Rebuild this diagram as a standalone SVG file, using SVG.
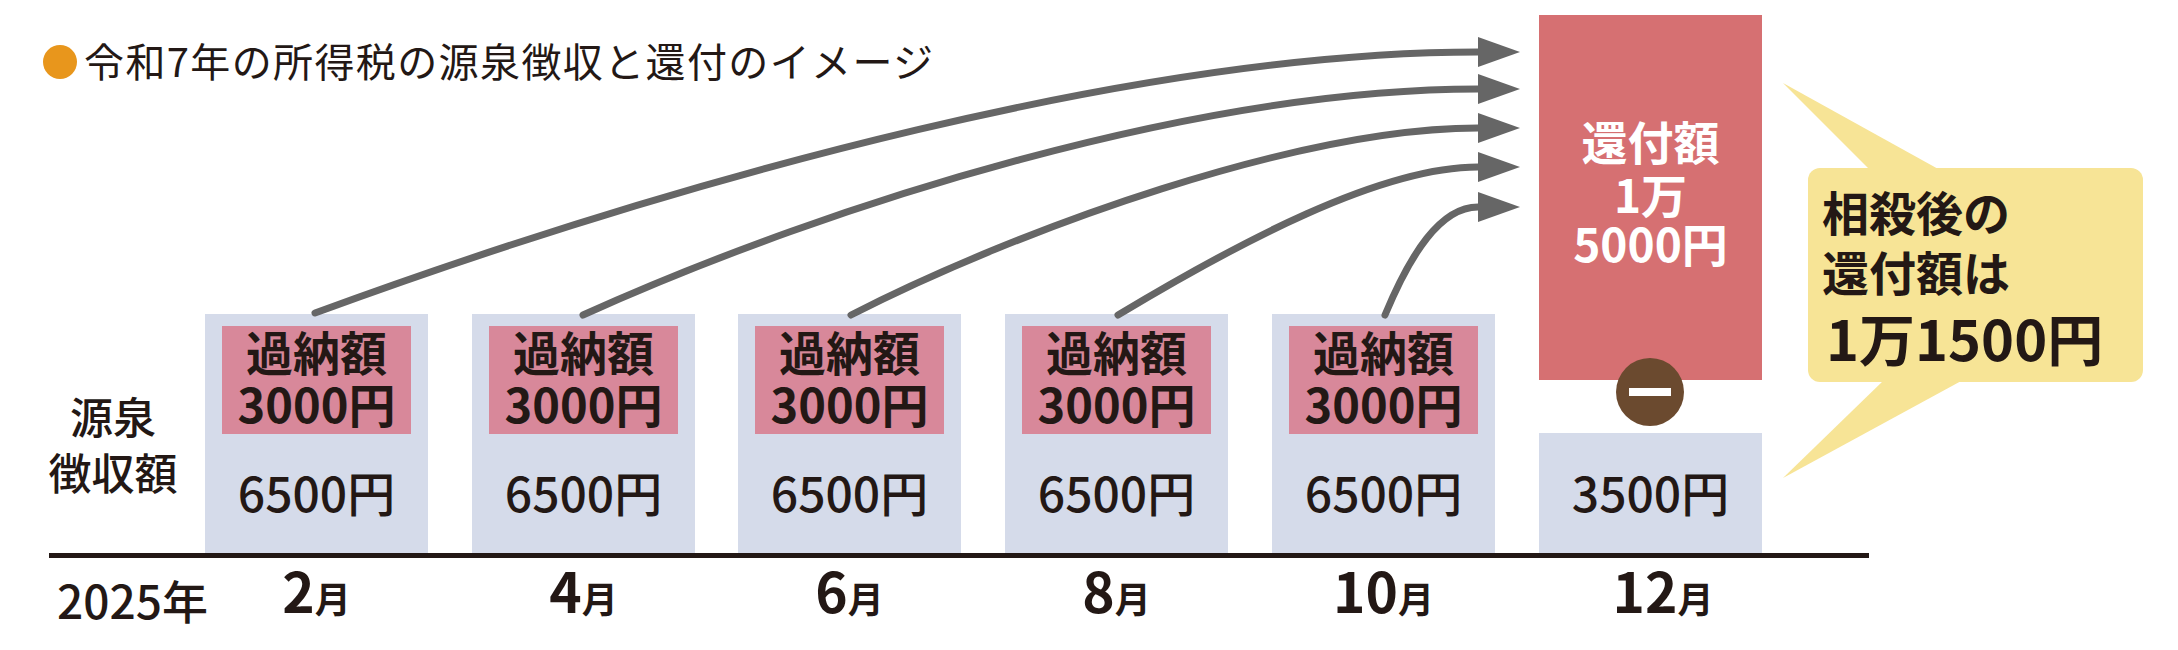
<svg xmlns="http://www.w3.org/2000/svg" width="2178" height="650" viewBox="0 0 2178 650">
<style>
  text { font-family: "Noto Sans CJK JP", "Noto Sans", sans-serif; fill: #231815; }
  .blue { fill: #D5DBEA; }
  .pink { fill: #D8889A; }
  .pinkt { font-size: 47px; font-weight: 700; text-anchor: middle; }
  .amt { font-size: 48px; font-weight: 500; text-anchor: middle; }
  .mon { font-size: 55px; font-weight: 700; text-anchor: middle; }
  .mon tspan.m { font-size: 36px; }
  .side { font-size: 43px; font-weight: 500; text-anchor: middle; }
  .wt { fill: #FFFFFF; font-size: 46px; font-weight: 700; text-anchor: middle; }
  .yt { font-size: 47px; font-weight: 700; }
  .arrow { fill: none; stroke: #666666; stroke-width: 7; stroke-linecap: round; marker-end: url(#ah); }
</style>
<defs>
  <marker id="ah" markerUnits="userSpaceOnUse" markerWidth="44" markerHeight="32" refX="0" refY="15" orient="auto" viewBox="0 0 44 32">
    <polygon points="0,0 42,15 0,30" fill="#666666"/>
  </marker>
</defs>
<rect width="2178" height="650" fill="#FFFFFF"/>

<g id="title">
  <circle cx="60" cy="62" r="17" fill="#E8961C"/>
  <text x="84" y="77" font-size="40" font-weight="400" textLength="849" lengthAdjust="spacing">令和7年の所得税の源泉徴収と還付のイメージ</text>
</g>

<g id="axis">
  <rect x="49" y="553" width="1820" height="5" fill="#231815"/>
  <text class="side" x="113" y="434">源泉</text>
  <text class="side" x="113" y="490">徴収額</text>
  <text x="57" y="619" font-size="46" font-weight="500">2025年</text>
</g>

<g id="feb">
  <rect class="blue" x="205" y="314" width="223" height="239"/>
  <rect class="pink" x="222" y="326" width="189" height="108"/>
  <text class="pinkt" x="316.5" y="371">過納額</text>
  <text class="pinkt" x="316.5" y="423">3000円</text>
  <text class="amt" x="316.5" y="512">6500円</text>
  <text class="mon" x="316.5" y="613">2<tspan class="m">月</tspan></text>
</g>
<g id="apr">
  <rect class="blue" x="472" y="314" width="223" height="239"/>
  <rect class="pink" x="489" y="326" width="189" height="108"/>
  <text class="pinkt" x="583.5" y="371">過納額</text>
  <text class="pinkt" x="583.5" y="423">3000円</text>
  <text class="amt" x="583.5" y="512">6500円</text>
  <text class="mon" x="583.5" y="613">4<tspan class="m">月</tspan></text>
</g>
<g id="jun">
  <rect class="blue" x="738" y="314" width="223" height="239"/>
  <rect class="pink" x="755" y="326" width="189" height="108"/>
  <text class="pinkt" x="849.5" y="371">過納額</text>
  <text class="pinkt" x="849.5" y="423">3000円</text>
  <text class="amt" x="849.5" y="512">6500円</text>
  <text class="mon" x="849.5" y="613">6<tspan class="m">月</tspan></text>
</g>
<g id="aug">
  <rect class="blue" x="1005" y="314" width="223" height="239"/>
  <rect class="pink" x="1022" y="326" width="189" height="108"/>
  <text class="pinkt" x="1116.5" y="371">過納額</text>
  <text class="pinkt" x="1116.5" y="423">3000円</text>
  <text class="amt" x="1116.5" y="512">6500円</text>
  <text class="mon" x="1116.5" y="613">8<tspan class="m">月</tspan></text>
</g>
<g id="oct">
  <rect class="blue" x="1272" y="314" width="223" height="239"/>
  <rect class="pink" x="1289" y="326" width="189" height="108"/>
  <text class="pinkt" x="1383.5" y="371">過納額</text>
  <text class="pinkt" x="1383.5" y="423">3000円</text>
  <text class="amt" x="1383.5" y="512">6500円</text>
  <text class="mon" x="1383.5" y="613">10<tspan class="m">月</tspan></text>
</g>
<g id="dec">
  <rect x="1539" y="15" width="223" height="365" fill="#D67072"/>
  <text class="wt" x="1650.5" y="160">還付額</text>
  <text class="wt" x="1650.5" y="213">1万</text>
  <text class="wt" x="1650.5" y="262">5000円</text>
  <rect class="blue" x="1539" y="433" width="223" height="120"/>
  <text class="amt" x="1650.5" y="512">3500円</text>
  <text class="mon" x="1663" y="613">12<tspan class="m">月</tspan></text>
</g>
<g id="minus">
  <circle cx="1650" cy="392" r="34" fill="#6B4A2F"/>
  <rect x="1629" y="388" width="42" height="8" fill="#FFFFFF"/>
</g>

<g id="callout">
  <rect x="1808" y="168" width="335" height="214" rx="12" fill="#F7E496"/>
  <polygon points="1783,83 1870,170 1940,170" fill="#F7E496"/>
  <polygon points="1783,478 1884,380 1963,380" fill="#F7E496"/>
  <text class="yt" x="1822" y="231">相殺後の</text>
  <text class="yt" x="1822" y="291">還付額は</text>
  <text x="1826" y="361" font-size="56" font-weight="700">1万1500円</text>
</g>

<g id="connectors">
  <path class="arrow" d="M315,313 C700,172 1150,52 1478,52"/>
  <path class="arrow" d="M583,315 C833,202 1200,89 1478,89"/>
  <path class="arrow" d="M851,315 C1021,228 1300,128 1478,128"/>
  <path class="arrow" d="M1118,315 C1238,243 1380,167 1478,167"/>
  <path class="arrow" d="M1385,315 C1410,255 1440,207 1478,207"/>
</g>
</svg>
